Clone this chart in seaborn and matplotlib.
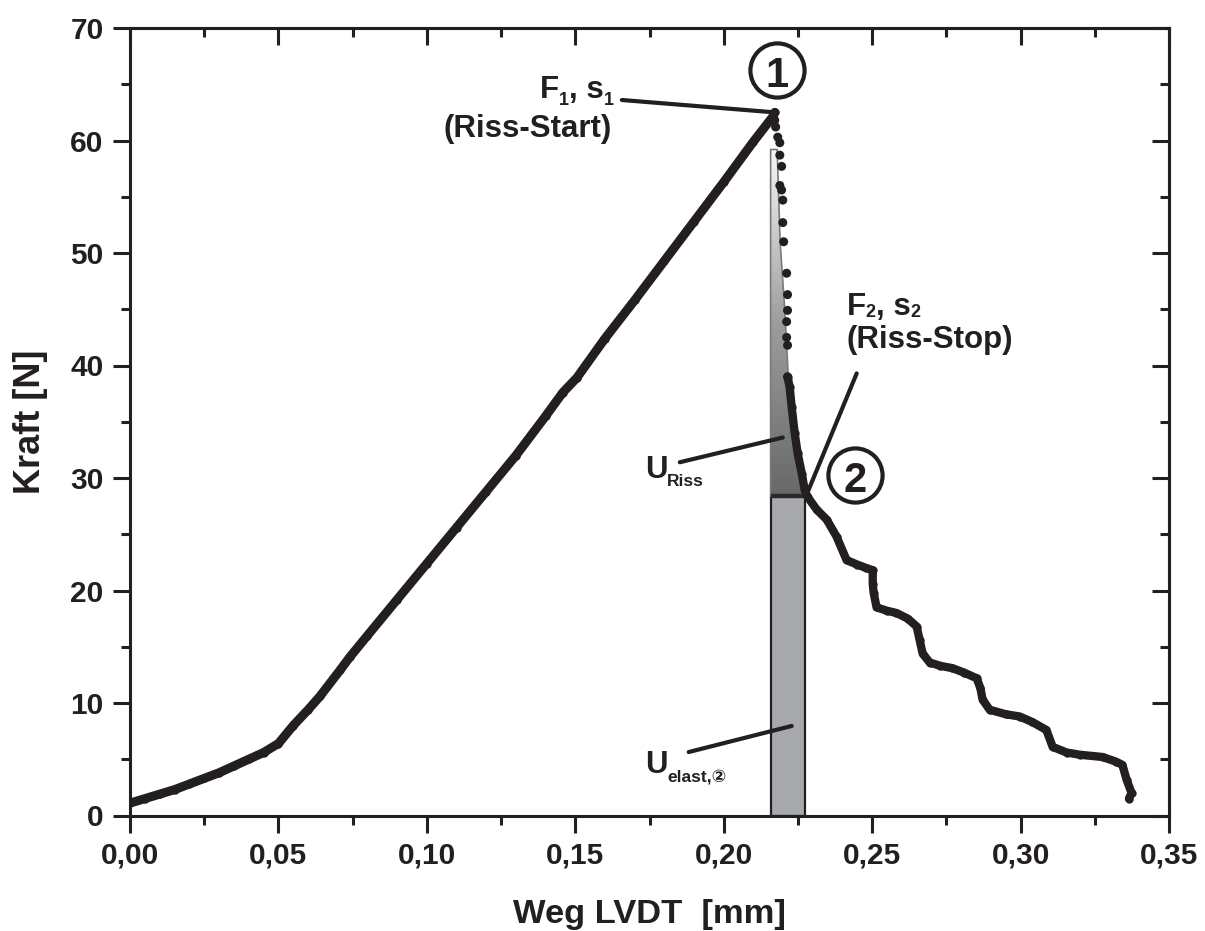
import numpy as np
import pandas as pd
import matplotlib
matplotlib.use("Agg")
import matplotlib.pyplot as plt
import seaborn as sns
from matplotlib.patches import Polygon, Rectangle
from matplotlib.colors import LinearSegmentedColormap
from matplotlib.ticker import FixedLocator, MultipleLocator

# ---------------- data ----------------
rise_x = [0.000, 0.005, 0.010, 0.015, 0.020, 0.025, 0.030, 0.035, 0.040, 0.045,
          0.050, 0.055, 0.060, 0.064, 0.0707, 0.0741, 0.080, 0.090, 0.100, 0.110,
          0.120, 0.130, 0.140, 0.1458, 0.1505, 0.160, 0.170, 0.180, 0.190, 0.200,
          0.210, 0.2165, 0.2172]
rise_y = [1.1, 1.5, 1.9, 2.3, 2.8, 3.3, 3.8, 4.4, 5.0, 5.6,
          6.4, 8.0, 9.4, 10.6, 12.9, 14.1, 16.0, 19.2, 22.4, 25.6,
          28.8, 32.0, 35.5, 37.6, 38.9, 42.4, 45.8, 49.3, 52.8, 56.3,
          59.9, 62.1, 62.5]

drop_x = [0.2172, 0.2175, 0.2182, 0.2189, 0.2189, 0.2195, 0.2189, 0.2195, 0.2199,
          0.2199, 0.2202, 0.2212, 0.2215, 0.2215, 0.2212, 0.2212, 0.2215, 0.2215]
drop_y = [61.8, 61.2, 60.3, 59.8, 58.7, 57.7, 56.0, 55.6, 54.7,
          52.7, 51.0, 48.2, 46.3, 44.9, 43.9, 42.5, 41.8, 39.0]

tail_x = [0.2215, 0.2222, 0.2229, 0.2239, 0.2249, 0.2263, 0.2273, 0.2283, 0.2313,
          0.2347, 0.2380, 0.2414, 0.2450, 0.2480, 0.2502, 0.2502, 0.2505, 0.2515,
          0.2550, 0.2582, 0.2620, 0.2650, 0.2660, 0.2670, 0.2694, 0.2730, 0.2770,
          0.2810, 0.2852, 0.2865, 0.2872, 0.2896, 0.2950, 0.2997, 0.3040, 0.3087,
          0.3108, 0.3155, 0.3200, 0.3276, 0.3320, 0.3343, 0.3357, 0.3374, 0.3365]
tail_y = [39.0, 38.1, 36.3, 34.0, 32.2, 30.4, 28.9, 28.3, 27.2,
          26.3, 24.8, 22.7, 22.3, 22.0, 21.8, 20.6, 19.8, 18.5,
          18.2, 18.0, 17.5, 16.8, 15.6, 14.4, 13.6, 13.3, 13.1,
          12.7, 12.2, 11.3, 10.3, 9.4, 9.0, 8.8, 8.3, 7.6,
          6.1, 5.6, 5.4, 5.2, 4.8, 4.5, 3.2, 2.0, 1.5]

# energy areas
s1 = 0.2158          # left edge of the shaded areas
s2 = 0.2275          # crack-stop displacement
F2 = 28.4            # crack-stop force
riss_edge_x = [0.2158, 0.2158, 0.2180, 0.2190, 0.2205, 0.2217, 0.2239, 0.2262, 0.2275]
riss_edge_y = [28.4, 59.2, 59.2, 51.0, 45.2, 39.3, 34.9, 30.4, 28.4]

x_ticks = [0.00, 0.05, 0.10, 0.15, 0.20, 0.25, 0.30, 0.35]
x_tick_labels = ["0,00", "0,05", "0,10", "0,15", "0,20", "0,25", "0,30", "0,35"]
y_ticks = [0, 10, 20, 30, 40, 50, 60, 70]
y_tick_labels = ["0", "10", "20", "30", "40", "50", "60", "70"]

x_label = "Weg LVDT  [mm]"
y_label = "Kraft [N]"

# ---------------- style ----------------
sns.set_theme(style="ticks")
plt.rcParams["font.family"] = ["Liberation Sans", "DejaVu Sans"]
plt.rcParams["font.weight"] = "bold"
DARK = "#231f20"

fig = plt.figure(figsize=(12.05, 9.31), dpi=100)
ax = fig.add_axes([130 / 1205, (931 - 815.5) / 931, 1039 / 1205, 787.5 / 931])

# ---------------- areas ----------------
rect = Rectangle((s1, 0), s2 - s1, F2, facecolor="#a7a9ac", edgecolor=DARK,
                 linewidth=1.6, zorder=2)
ax.add_patch(rect)

poly = Polygon(np.column_stack([riss_edge_x, riss_edge_y]), closed=True,
               facecolor="none", edgecolor="#7a7a7a", linewidth=1.2, zorder=3)
ax.add_patch(poly)
cmap = LinearSegmentedColormap.from_list("g", ["#67686a", "#9c9d9f", "#f6f6f6"])
grad = np.linspace(0, 1, 256).reshape(-1, 1)
im = ax.imshow(grad, extent=[min(riss_edge_x), max(riss_edge_x), F2, max(riss_edge_y)],
               origin="lower", aspect="auto", cmap=cmap, zorder=2.5)
im.set_clip_path(poly)
ax.plot([s1, s2], [F2, F2], color="#2a2a2a", linewidth=3.2, zorder=4,
        solid_capstyle="butt")

# ---------------- measured curve ----------------
df_rise = pd.DataFrame({"x": rise_x, "y": rise_y})
df_drop = pd.DataFrame({"x": drop_x, "y": drop_y})
df_tail = pd.DataFrame({"x": tail_x, "y": tail_y})

sns.lineplot(data=df_rise, x="x", y="y", ax=ax, color=DARK, linewidth=6.5,
             sort=False, estimator=None, marker="o", markersize=6,
             markeredgewidth=0, zorder=5)
sns.lineplot(data=df_tail, x="x", y="y", ax=ax, color=DARK, linewidth=6.0,
             sort=False, estimator=None, marker="o", markersize=6,
             markeredgewidth=0, zorder=5)
sns.scatterplot(data=df_drop, x="x", y="y", ax=ax, color=DARK, s=42,
                edgecolor="none", zorder=5)

# ---------------- annotations ----------------
FS = 22.5
SUB = 12.5


def chain(x, y, parts, color=DARK):
    """parts: list of (text, size, dy_points)"""
    t = ax.text(x, y, parts[0][0], fontsize=parts[0][1], fontweight="bold",
                ha="left", va="baseline", color=color, zorder=7)
    prev = t
    for s, size, dy in parts[1:]:
        prev = ax.annotate(s, xy=(1, 0), xycoords=prev, xytext=(0, dy),
                           textcoords="offset points", fontsize=size,
                           fontweight="bold", ha="left", va="bottom",
                           color=color, zorder=7,
                           family=["Liberation Sans", "DejaVu Sans"])
    return t


# F1, s1 (Riss-Start)
chain(0.1380, 63.78, [("F", FS, 0), ("1", 13, -3.0), (", s", FS, 3.0), ("1", 13, -3.0)])
ax.text(0.1623, 60.31, "(Riss-Start)", fontsize=FS, fontweight="bold",
        ha="right", va="baseline", color=DARK)
ax.plot([0.1657, 0.2172], [63.6, 62.5], color=DARK, linewidth=3, zorder=6)

# F2, s2 (Riss-Stop)
chain(0.2414, 44.45, [("F", FS, 0), ("2", 13, 1.2), (", s", FS, -1.2), ("2", 13, 1.2)])
ax.text(0.2414, 41.55, "(Riss-Stop)", fontsize=FS, fontweight="bold",
        ha="left", va="baseline", color=DARK)
ax.plot([0.2448, 0.2279], [39.3, 28.5], color=DARK, linewidth=3, zorder=6)

# U_Riss
chain(0.1734, 30.0, [("U", FS, 0), ("Riss", SUB, -3.0)])
ax.plot([0.1852, 0.2199], [31.4, 33.6], color=DARK, linewidth=3, zorder=6)

# U_elast,2
chain(0.1734, 3.78, [("U", FS, 0), ("elast,\u2461", SUB, -3.0)])
ax.plot([0.1882, 0.2229], [5.64, 7.96], color=DARK, linewidth=3, zorder=6)

# circled markers
for cx, cy, lab in [(0.2178, 66.3, "1"), (0.2441, 30.3, "2")]:
    ax.plot([cx], [cy], marker="o", markersize=39, markerfacecolor="white",
            markeredgecolor=DARK, markeredgewidth=3, zorder=6, clip_on=False)
    ax.text(cx, cy - 0.15, lab, fontsize=30, fontweight="bold", ha="center",
            va="center_baseline", color=DARK, zorder=7)

# ---------------- axes ----------------
ax.set_xlim(0, 0.35)
ax.set_ylim(0, 70)
ax.xaxis.set_major_locator(FixedLocator(x_ticks))
ax.set_xticklabels(x_tick_labels)
ax.yaxis.set_major_locator(FixedLocator(y_ticks))
ax.set_yticklabels(y_tick_labels)
ax.xaxis.set_minor_locator(MultipleLocator(0.025))
ax.yaxis.set_minor_locator(MultipleLocator(5))
ax.tick_params(which="major", direction="out", length=12, width=2.2,
               color=DARK, labelsize=21.5, labelcolor=DARK, pad=7)
ax.tick_params(which="minor", direction="out", length=6.5, width=2.2, color=DARK)
for lab in ax.get_xticklabels() + ax.get_yticklabels():
    lab.set_fontweight("bold")
for sp in ax.spines.values():
    sp.set_visible(True)
    sp.set_linewidth(2.2)
    sp.set_color(DARK)

secx = ax.secondary_xaxis("top")
secx.xaxis.set_major_locator(FixedLocator(x_ticks))
secx.xaxis.set_minor_locator(MultipleLocator(0.025))
secx.tick_params(which="major", direction="in", length=12, width=2.2, color=DARK,
                 labeltop=False)
secx.tick_params(which="minor", direction="in", length=6.5, width=2.2, color=DARK)
secx.spines["top"].set_linewidth(2.2)
secx.spines["top"].set_color(DARK)

secy = ax.secondary_yaxis("right")
secy.yaxis.set_major_locator(FixedLocator(y_ticks))
secy.yaxis.set_minor_locator(MultipleLocator(5))
secy.tick_params(which="major", direction="in", length=12, width=2.2, color=DARK,
                 labelright=False)
secy.tick_params(which="minor", direction="in", length=6.5, width=2.2, color=DARK)
secy.spines["right"].set_linewidth(2.2)
secy.spines["right"].set_color(DARK)

ax.set_xlabel(x_label, fontsize=24.8, fontweight="bold", color=DARK, labelpad=21)
ax.set_ylabel(y_label, fontsize=26, fontweight="bold", color=DARK, labelpad=16)

fig.savefig("out.png", dpi=100)
